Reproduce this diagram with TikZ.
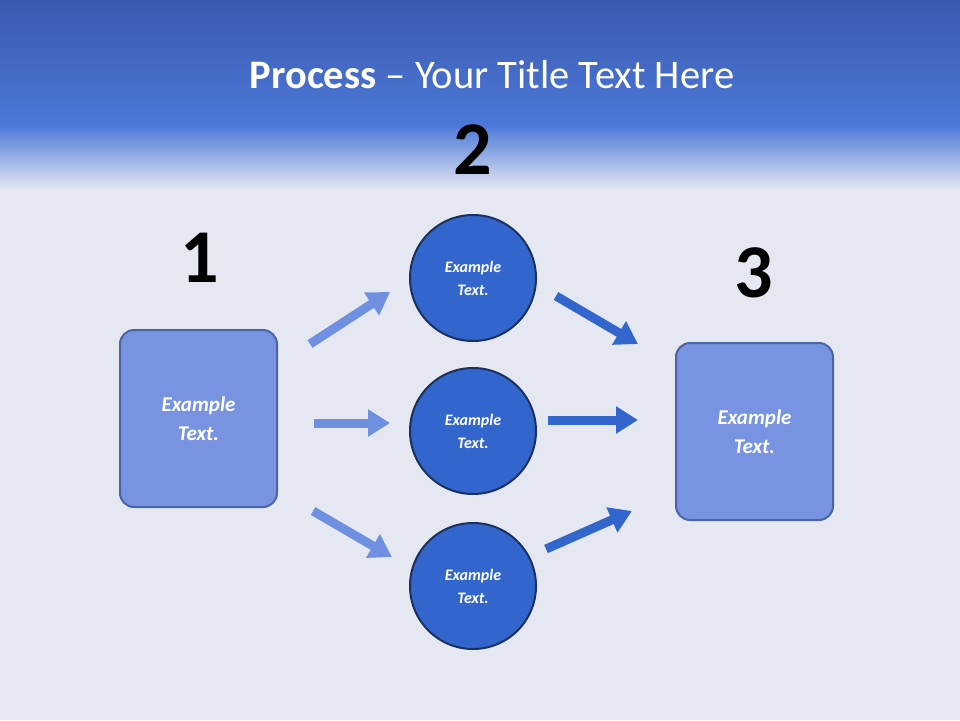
\documentclass[tikz,border=0pt]{standalone}
\usepackage{fontspec}
\setmainfont{Carlito}
\usetikzlibrary{arrows.meta}
\definecolor{bandA}{HTML}{3A5AAE}
\definecolor{bandB}{HTML}{4C78D8}
\definecolor{bodyC}{HTML}{E5E8F1}
\definecolor{boxF}{HTML}{7893E0}
\definecolor{boxD}{HTML}{4A64A8}
\definecolor{circF}{HTML}{3366CC}
\definecolor{circD}{HTML}{1A3060}
\definecolor{arrL}{HTML}{6F8FE0}
\definecolor{arrD}{HTML}{3366CC}
\tikzset{
  box/.style={draw=boxD,line width=2pt,fill=boxF,rounded corners=14pt,minimum width=157pt,minimum height=177pt,text=white,font=\fontsize{21}{29}\selectfont\bfseries\itshape,align=center},
  circ/.style={circle,draw=circD,line width=2pt,fill=circF,minimum size=126pt,text=white,font=\fontsize{16}{23}\selectfont\bfseries\itshape,align=center},
  num/.style={font=\fontsize{76}{76}\selectfont\bfseries,text=black},
  blk/.style={line width=9pt,-{Triangle[length=22pt,width=26pt]}},
}
\begin{document}
\begin{tikzpicture}[x=1pt,y=-1pt]
\useasboundingbox (0,0) rectangle (960,720);
\fill[bodyC] (0,0) rectangle (960,720);
\shade[top color=bandA,bottom color=bandB] (0,0) rectangle (960,125);
\shade[top color=bandB,bottom color=bodyC] (0,125) rectangle (960,190);
\node[text=white,font=\fontsize{40.5}{44}\selectfont] (title) at (492,75) {\textbf{Process} – Your Title Text Here};
\node[box] (b1) at (198.5,418.5) {Example\\Text.};
\node[box] (b3) at (754.5,431.5) {Example\\Text.};
\node[circ] (c1) at (473,278) {Example\\Text.};
\node[circ] (c2) at (473,431) {Example\\Text.};
\node[circ] (c3) at (473,586) {Example\\Text.};
\node[num] (n1) at (200,258) {1};
\node[num] (n2) at (473,150) {2};
\node[num] (n3) at (754,273) {3};
\coordinate (a1s) at (310,344); \coordinate (a1e) at (390,292);
\coordinate (a2s) at (314,423); \coordinate (a2e) at (390,423);
\coordinate (a3s) at (313,511); \coordinate (a3e) at (392,557);
\coordinate (d1s) at (556,296); \coordinate (d1e) at (638,344);
\coordinate (d2s) at (548,420); \coordinate (d2e) at (638,420);
\coordinate (d3s) at (546,549); \coordinate (d3e) at (632,511);
\draw[blk,arrL] (a1s) -- (a1e);
\draw[blk,arrL] (a2s) -- (a2e);
\draw[blk,arrL] (a3s) -- (a3e);
\draw[blk,arrD] (d1s) -- (d1e);
\draw[blk,arrD] (d2s) -- (d2e);
\draw[blk,arrD] (d3s) -- (d3e);
\end{tikzpicture}
\end{document}
